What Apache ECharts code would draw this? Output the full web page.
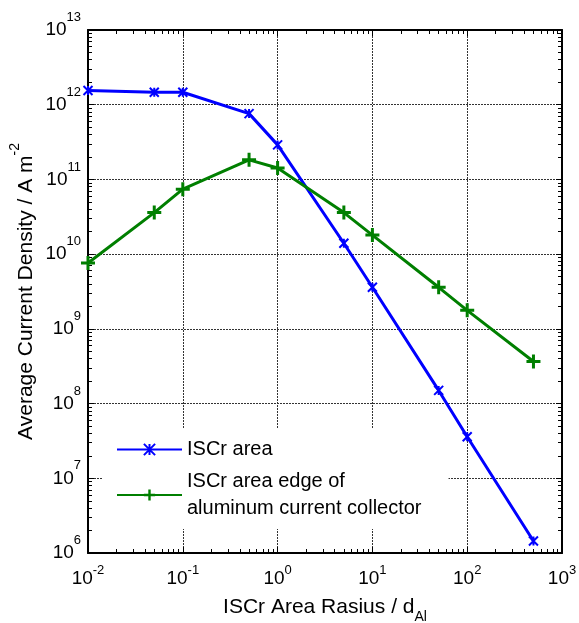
<!DOCTYPE html>
<html>
<head>
<meta charset="utf-8">
<script src="https://cdn.jsdelivr.net/npm/echarts@6/dist/echarts.min.js"></script>
<style>
  html, body { margin: 0; padding: 0; background: #fff; }
  #chart { width: 579px; height: 623px; }
</style>
</head>
<body>
<div id="chart"></div>
<script>
// ISCr radius (in units of d_Al)
const radius = [0.01, 0.05, 0.1, 0.5, 1, 5, 10, 50, 100, 500];
// Average current density in the ISCr area (A m^-2)
const iscrArea = [1.55e12, 1.47e12, 1.47e12, 7.6e11, 2.9e11, 1.4e10, 3.6e9, 1.5e8, 3.6e7, 1.45e6];
// Average current density at the ISCr area edge of the aluminum current collector (A m^-2)
const iscrEdge = [7.6e9, 3.6e10, 7.4e10, 1.83e11, 1.42e11, 3.6e10, 1.8e10, 3.6e9, 1.77e9, 3.65e8];

const seriesNames = ['ISCr area', 'ISCr area edge of\naluminum current collector'];

// Axis ranges (decades)
const xRange = [0.01, 1000];
const yRange = [1e6, 1e13];

// Minor tick values between decades (2..9 x 10^n)
function minorTicks(lo, hi) {
  const out = [];
  for (let e = Math.round(Math.log10(lo)); e < Math.round(Math.log10(hi)); e++) {
    for (let m = 2; m <= 9; m++) out.push(m * Math.pow(10, e));
  }
  return out;
}
const xMinor = minorTicks(xRange[0], xRange[1]);
const yMinor = minorTicks(yRange[0], yRange[1]);

const FONT = 'Liberation Sans, Arial, Helvetica, sans-serif';
const AXIS_COLOR = '#000';

function powLabel(v) {
  const e = Math.round(Math.log10(v));
  return '{b|10}{s|' + e + '}';
}

const asterisk = 'path://M0,0L10,10M10,0L0,10M5,0L5,10';
const plus = 'path://M5.5,0h3v5.5h5.5v3h-5.5v5.5h-3v-5.5h-5.5v-3h5.5z';

function majorAxis(pos, range, isX, showLabels) {
  return {
    type: 'log',
    logBase: 10,
    position: pos,
    min: range[0],
    max: range[1],
    interval: 1,
    axisLine: { show: true, onZero: false, lineStyle: { color: AXIS_COLOR, width: 2 } },
    axisTick: { show: true, inside: true, length: 6, lineStyle: { color: AXIS_COLOR, width: 1 } },
    minorTick: { show: false },
    splitLine: showLabels
      ? { show: true, lineStyle: { color: '#333', width: 1, type: [2, 1] } }
      : { show: false },
    axisLabel: showLabels ? {
      show: true,
      fontFamily: FONT,
      color: '#000',
      margin: isX ? 16 : 7,
      formatter: powLabel,
      rich: {
        b: { fontSize: 19, lineHeight: 19, fontFamily: FONT, color: '#000' },
        s: { fontSize: 13, lineHeight: 13, fontFamily: FONT, color: '#000',
             padding: [0, 0, isX ? 17 : 25, 0] }
      }
    } : { show: false }
  };
}

function minorAxis(pos, range, values) {
  return {
    type: 'log',
    logBase: 10,
    position: pos,
    min: range[0],
    max: range[1],
    axisLine: { show: false },
    axisTick: { show: true, inside: true, length: 4, customValues: values,
                lineStyle: { color: AXIS_COLOR, width: 1 } },
    axisLabel: { show: false },
    splitLine: { show: false },
    minorTick: { show: false }
  };
}

const xAxes = [
  Object.assign(majorAxis('bottom', xRange, true, true), {
    name: '{t|ISCr Area Rasius / d}{sub|Al}',
    nameLocation: 'middle',
    nameGap: 44,
    nameMoveOverlap: false,
    nameTextStyle: {
      rich: {
        t: { fontSize: 21, lineHeight: 21, fontFamily: FONT, color: '#000' },
        sub: { fontSize: 14, lineHeight: 14, fontFamily: FONT, color: '#000', padding: [20, 0, 0, 0] }
      }
    }
  }),
  majorAxis('top', xRange, true, false),
  minorAxis('bottom', xRange, xMinor),
  minorAxis('top', xRange, xMinor)
];

const yAxes = [
  Object.assign(majorAxis('left', yRange, false, true), {
    name: '{t|Average Current Density / A m}{sup|-2}',
    nameLocation: 'middle',
    nameGap: 51,
    nameMoveOverlap: false,
    nameTextStyle: {
      rich: {
        t: { fontSize: 21, lineHeight: 21, fontFamily: FONT, color: '#000' },
        sup: { fontSize: 14, lineHeight: 14, fontFamily: FONT, color: '#000', padding: [0, 0, 22, 0] }
      }
    }
  }),
  majorAxis('right', yRange, false, false),
  minorAxis('left', yRange, yMinor),
  minorAxis('right', yRange, yMinor)
];

const chart = echarts.init(document.getElementById('chart'), null, { renderer: 'canvas' });
chart.setOption({
  animation: false,
  backgroundColor: '#fff',
  textStyle: { fontFamily: FONT },
  grid: { left: 88, right: 17, top: 30, bottom: 70, containLabel: false, outerBoundsMode: 'none' },
  xAxis: xAxes,
  yAxis: yAxes,
  legend: {
    orient: 'vertical',
    left: 102,
    top: 428,
    padding: [8, 27, 7, 14],
    itemGap: 5,
    itemWidth: 65,
    itemHeight: 14,
    backgroundColor: '#fff',
    borderWidth: 0,
    textStyle: { fontSize: 20, lineHeight: 27, fontFamily: FONT, color: '#000' },
    data: seriesNames
  },
  series: [
    {
      name: seriesNames[0],
      type: 'line',
      xAxisIndex: 0,
      yAxisIndex: 0,
      data: radius.map((x, i) => [x, iscrArea[i]]),
      symbol: asterisk,
      symbolSize: 9,
      lineStyle: { color: '#0000ff', width: 3 },
      itemStyle: { color: '#0000ff', borderColor: '#0000ff', borderWidth: 2 },
      emphasis: { disabled: true }
    },
    {
      name: seriesNames[1],
      type: 'line',
      xAxisIndex: 0,
      yAxisIndex: 0,
      data: radius.map((x, i) => [x, iscrEdge[i]]),
      symbol: plus,
      symbolSize: 14,
      lineStyle: { color: '#007f00', width: 3 },
      itemStyle: { color: '#007f00' },
      emphasis: { disabled: true }
    }
  ]
});
</script>
</body>
</html>
